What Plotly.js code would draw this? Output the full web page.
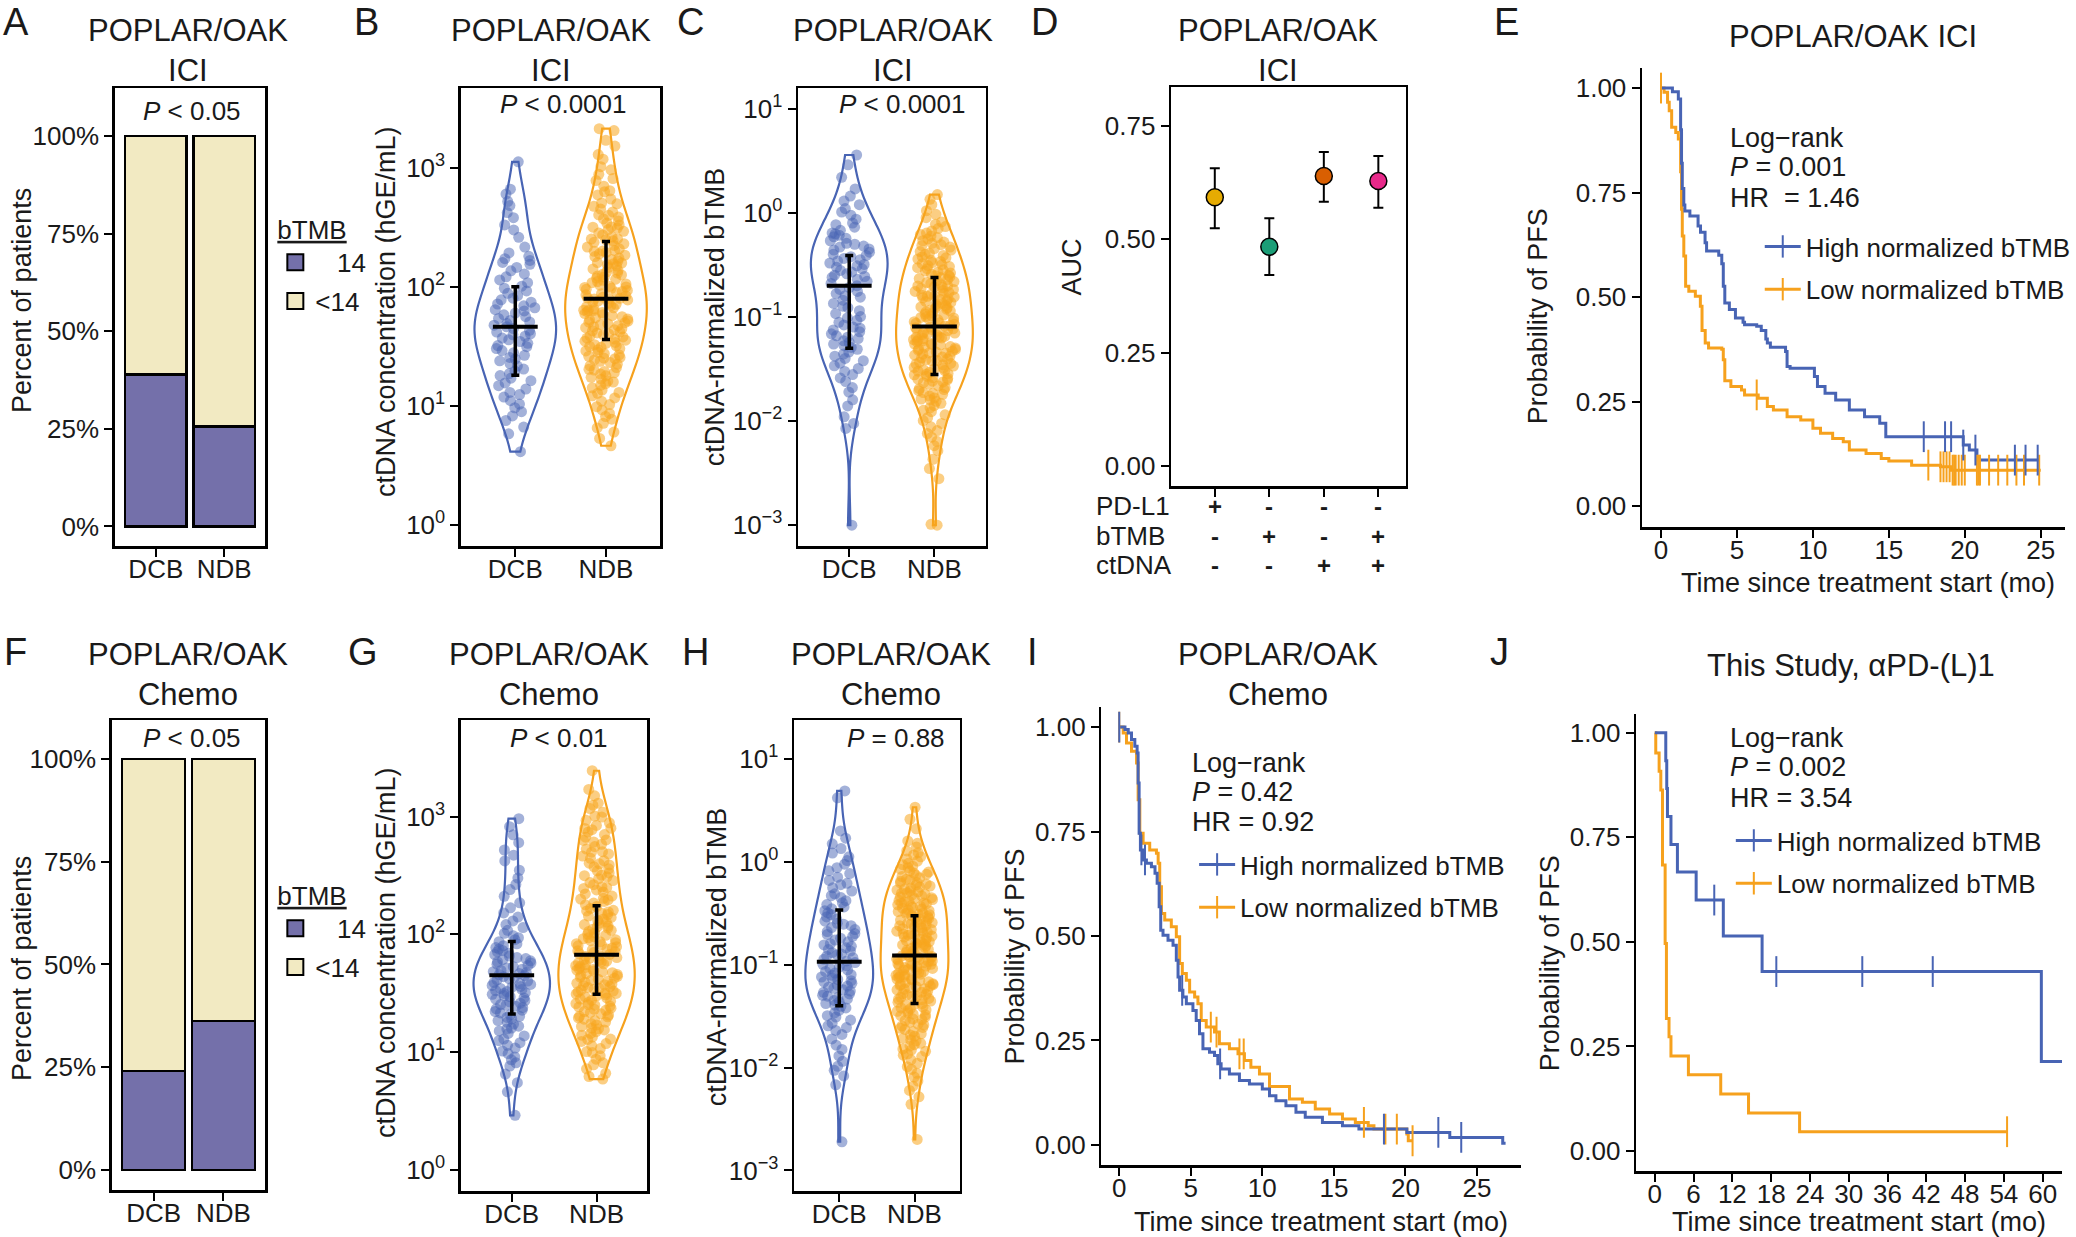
<!DOCTYPE html>
<html><head><meta charset="utf-8">
<script src="https://cdn.plot.ly/plotly-3.0.1.min.js"></script>
<style>html,body{margin:0;padding:0;background:#fff}#chart{width:2076px;height:1237px}</style>
</head><body><div id="chart"></div>
<script>
const W = 2076, H = 1237;
const FONT = 'Liberation Sans, Arial, Helvetica, sans-serif';
const BLUE = '#4864B4', ORANGE = '#F6A11D';
const BLUE_PT = 'rgba(72,100,180,0.5)', ORANGE_PT = 'rgba(248,166,30,0.55)';
const PURPLE = '#7470AA', BEIGE = '#F2EAC2';

// ---------------- DATA ----------------
const groups = ['DCB', 'NDB'];
// A / F : fraction of patients with high bTMB
const iciHighTMB = [0.389, 0.256];
const chemoHighTMB = [0.241, 0.362];

// B : ctDNA concentration (hGE/mL), ICI
const iciCtdnaDCB = [4.1,5.8,6.6,7.5,8.2,8.9,9.6,10.3,11,11.8,12.4,12.9,13.8,14.7,15.5,16.2,17,17.9,18.6,19.5,20.3,21.5,22.6,23.8,24.6,25.4,26.5,27.8,29,30.2,31.3,32,33.4,34.6,35.8,37,38.3,39.4,40.2,41.5,43,44.4,46,47.5,49,50.5,52,54,56,58,60,62.5,64,66.5,69,71.5,74,77.5,80,84,88,92,97,101,108,114,121,128,136,145,154,160,166,172,180,192,215,260,300,330,380,420,480,520,600,660,1120];
const iciCtdnaNDB = [4.6,5.3,6.0,6.5,7.1,7.7,8.1,8.6,9.2,9.8,10.2,10.9,11.6,12.1,12.7,12.9,13.5,14.1,14.8,15.3,15.8,16.1,16.7,17.3,17.8,18.4,18.9,19.4,19.9,20.2,20.9,21.6,22.3,23,23.6,24.2,24.8,25.1,25.4,26,26.7,27.4,28.1,28.8,29.5,30.2,30.9,31.5,31.8,32.5,33.3,34,34.8,35.5,36.3,37,37.8,38.5,39.4,40,40.8,41.7,42.5,43.4,44.3,45.2,46.1,47,47.9,48.9,49.8,50.3,51.4,52.5,53.6,54.7,55.9,57,58.2,59.4,60.6,61.8,62.9,63.3,63.5,65,66.4,67.9,69.4,71,72.6,74.2,75.8,77.4,78.9,79.3,80.5,79.8,81.6,83.5,85.4,87.3,89.2,91.1,93,95,96.9,98.5,99.5,100.5,103,105.5,108,110.5,113,115.5,118,120.5,123,125.5,126.5,130,133.5,137,141,145,149,153,156,158,159.5,164,169,174,179,184,189,194,198,199.5,201,208,215,222,229,236,243,248,251,253,262,272,282,292,302,311,316,318,330,343,357,371,385,398,402,425,449,474,497,505,545,590,628,640,700,780,810,880,960,1020,1180,1290,1520,1700,2050,2130];
const iciCtdnaMed = [46, 79], iciCtdnaQ1 = [18, 36], iciCtdnaQ3 = [100, 240];

// C : ctDNA-normalized bTMB, ICI
const iciNormDCB = [0.001,0.0085,0.0095,0.011,0.014,0.016,0.019,0.021,0.024,0.026,0.028,0.03,0.032,0.034,0.036,0.038,0.04,0.042,0.044,0.046,0.049,0.051,0.053,0.055,0.057,0.059,0.062,0.064,0.066,0.069,0.072,0.075,0.078,0.08,0.084,0.089,0.093,0.098,0.101,0.108,0.115,0.123,0.127,0.135,0.145,0.155,0.16,0.168,0.176,0.184,0.192,0.2,0.21,0.22,0.23,0.24,0.245,0.252,0.26,0.27,0.28,0.29,0.3,0.31,0.32,0.33,0.345,0.355,0.365,0.38,0.39,0.4,0.42,0.44,0.45,0.47,0.48,0.5,0.51,0.54,0.57,0.59,0.61,0.63,0.64,0.68,0.73,0.77,0.8,0.87,0.95,1.02,1.1,1.2,1.3,1.45,1.7,2.2,2.9,3.6];
const iciNormNDB = [0.001,0.00102,0.0028,0.0035,0.0043,0.0052,0.0058,0.0064,0.007,0.0076,0.0081,0.0088,0.0095,0.0101,0.0108,0.0115,0.0123,0.0127,0.0134,0.0141,0.0148,0.0155,0.016,0.0163,0.0167,0.0174,0.0181,0.0185,0.0188,0.0196,0.0201,0.0205,0.021,0.0218,0.0226,0.0234,0.0238,0.0242,0.0249,0.0253,0.0258,0.0262,0.027,0.0278,0.0282,0.0286,0.0294,0.0302,0.0306,0.031,0.0318,0.0322,0.0328,0.0338,0.0348,0.0353,0.0358,0.0368,0.0378,0.0383,0.0388,0.0396,0.0405,0.0412,0.042,0.043,0.044,0.045,0.0452,0.046,0.047,0.048,0.0488,0.0495,0.0505,0.051,0.052,0.054,0.0545,0.055,0.056,0.058,0.059,0.06,0.0605,0.062,0.063,0.0642,0.064,0.065,0.067,0.068,0.0695,0.07,0.071,0.073,0.074,0.0755,0.076,0.077,0.079,0.08,0.082,0.083,0.085,0.087,0.088,0.09,0.092,0.094,0.096,0.098,0.099,0.101,0.103,0.105,0.107,0.109,0.112,0.114,0.117,0.119,0.121,0.123,0.125,0.127,0.129,0.132,0.135,0.138,0.141,0.144,0.147,0.15,0.153,0.156,0.158,0.159,0.162,0.165,0.169,0.172,0.176,0.18,0.184,0.188,0.192,0.196,0.199,0.2,0.204,0.209,0.214,0.219,0.224,0.229,0.234,0.239,0.244,0.249,0.252,0.258,0.264,0.27,0.277,0.284,0.291,0.298,0.305,0.312,0.318,0.325,0.333,0.342,0.35,0.36,0.37,0.38,0.39,0.4,0.41,0.425,0.44,0.455,0.47,0.485,0.495,0.51,0.525,0.54,0.56,0.58,0.6,0.62,0.64,0.67,0.71,0.74,0.78,0.82,0.9,0.97,1.05,1.2,1.35,1.5];
const iciNormMed = [0.2, 0.081], iciNormQ1 = [0.05, 0.028], iciNormQ3 = [0.39, 0.24];

// D : AUC of predictor combinations
const aucVal = [0.592, 0.483, 0.639, 0.628];
const aucLow = [0.524, 0.421, 0.582, 0.569];
const aucHigh = [0.656, 0.546, 0.692, 0.683];
const aucColors = ['#E6AB02', '#1B9E77', '#D95F02', '#E7298A'];
const predictors = ['PD-L1', 'bTMB', 'ctDNA'];
const inclusion = [['+','-','-','-'], ['-','+','-','+'], ['-','-','+','+']];

// E : KM POPLAR/OAK ICI
const eHighT = [0,0.75,1.14,1.29,1.35,1.4,1.5,1.57,1.9,2.44,2.6,2.9,3.0,3.8,4.0,4.1,4.2,4.5,4.9,5.4,5.5,6.3,6.6,6.9,7.0,7.2,8.2,8.3,8.5,10.1,10.3,10.8,11.5,12.4,13.4,14.4,14.8,19.9,20.3,20.8,24.9];
const eHighS = [1,0.991,0.974,0.9,0.82,0.76,0.72,0.706,0.694,0.67,0.655,0.63,0.61,0.6,0.58,0.526,0.486,0.47,0.45,0.44,0.434,0.43,0.42,0.4,0.39,0.38,0.37,0.334,0.33,0.31,0.286,0.27,0.254,0.23,0.214,0.198,0.166,0.146,0.134,0.11,0.11];
const eHighCens = [17.3,18.7,19.1,19.9,20.7,23.3,24.0,24.8];
const eLowT = [0,0.2,0.43,0.54,0.7,0.97,1.14,1.29,1.35,1.4,1.5,1.62,1.83,2.26,2.59,2.7,2.91,3.13,4.0,4.1,4.2,4.6,5.3,5.5,6.4,7.0,7.4,8.3,9.2,10.0,10.5,11.3,12.0,12.4,13.5,14.5,15.0,16.5,18.4,19.1,25.0];
const eLowS = [1,0.99,0.966,0.946,0.906,0.894,0.878,0.8,0.71,0.646,0.598,0.526,0.514,0.502,0.478,0.42,0.39,0.378,0.375,0.35,0.3,0.286,0.278,0.266,0.258,0.238,0.23,0.214,0.206,0.186,0.174,0.162,0.154,0.134,0.126,0.114,0.108,0.098,0.094,0.086,0.086];
const eLowCens = [0,6.3,17.6,18.4,18.6,18.8,19.0,19.2,19.3,19.4,19.6,19.8,20.0,20.8,20.9,21.0,21.6,22.2,22.8,23.4,23.9,24.9];

// G : ctDNA concentration, Chemo
const chemoCtdnaDCB = [2.9,4.6,5.5,6.5,7.6,8.1,8.6,9.1,9.7,10.2,10.8,11.4,12,12.5,12.9,13.7,14.4,15.1,15.7,16,16.6,17.3,17.9,18.5,19.1,19.7,20.1,20.8,21.5,22.1,22.7,23.3,23.9,24.5,25,25.3,26,26.7,27.4,28.1,28.8,29.5,30.2,30.9,31.5,31.9,32.6,33.3,34,34.7,35.4,36.1,36.8,37.5,38.2,39,40.1,41,41.9,42.8,43.7,44.6,45.5,46.4,47.3,48.2,49.3,50.5,51.8,53.1,54.4,55.7,57,58.3,59.6,60.9,62.2,63.5,65.4,67.3,69.2,71.1,73,75,77.2,80,83,86.5,90,93.5,97,102,108,114,121,130,140,152,168,185,210,240,265,300,350,420,470,520,600,700,820,960];
const chemoCtdnaNDB = [5.9,6.2,6.6,7.2,7.8,8.1,8.7,9.3,9.9,10.1,10.7,11.3,11.8,12.3,12.8,12.9,13.4,13.9,14.4,14.9,15.4,15.8,16,16.5,17,17.5,18,18.5,19,19.5,19.9,20.1,20.6,21.1,21.6,22.1,22.6,23.1,23.6,24.1,24.6,25,25.3,25.8,26.4,27,27.6,28.2,28.8,29.4,30,30.6,31.1,31.5,31.8,32.4,33,33.6,34.2,34.8,35.4,36,36.6,37.2,37.8,38.4,39.2,40,40.8,41.6,42.4,43.2,44,44.8,45.6,46.4,47.2,48,48.8,49.7,50.2,51.2,52.2,53.2,54.2,55.2,56.2,57.2,58.2,59.2,60.2,61.2,62.5,63.5,64.8,66.1,67.4,68.7,70,71.3,72.6,73.9,75.2,76.5,78.5,79.8,81.5,83.2,84.9,86.6,88.3,90,91.7,93.4,95.5,98,100.5,103,105.5,108,110.5,113,115.5,118,121,124,127,131,135,139,143,147,151,155,158,160,166,172,178,184,190,196,199,202,211,220,229,238,245,250,253,264,275,286,297,308,315,318,332,346,360,374,388,397,402,422,442,462,482,498,503,530,556,582,608,628,633,668,703,738,773,792,797,840,885,930,990,1010,1090,1170,1250,1300,1500,1700,2450];
const chemoCtdnaMed = [45, 67], chemoCtdnaQ1 = [21, 31], chemoCtdnaQ3 = [87, 175];

// H : ctDNA-normalized bTMB, Chemo
const chemoNormDCB = [0.0019,0.0068,0.0083,0.0094,0.0103,0.0115,0.013,0.015,0.0165,0.019,0.021,0.023,0.0245,0.0255,0.027,0.029,0.031,0.032,0.034,0.036,0.038,0.0395,0.0405,0.042,0.0435,0.045,0.0465,0.048,0.0495,0.0505,0.052,0.054,0.0555,0.057,0.059,0.0605,0.062,0.0635,0.066,0.068,0.07,0.072,0.074,0.076,0.079,0.08,0.083,0.086,0.089,0.092,0.095,0.098,0.101,0.105,0.109,0.113,0.117,0.121,0.125,0.127,0.131,0.136,0.141,0.146,0.151,0.156,0.16,0.167,0.174,0.181,0.189,0.197,0.201,0.21,0.22,0.23,0.24,0.248,0.253,0.265,0.278,0.292,0.308,0.32,0.335,0.35,0.365,0.385,0.4,0.42,0.45,0.47,0.49,0.52,0.56,0.6,0.62,0.66,0.71,0.77,0.82,0.88,0.95,1.03,1.12,1.22,1.35,1.5,1.7,2.0,4.2,4.9];
const chemoNormNDB = [0.002,0.0044,0.0052,0.006,0.0066,0.0074,0.0081,0.0088,0.0096,0.0102,0.011,0.0119,0.0128,0.0132,0.0136,0.0144,0.0148,0.0152,0.0162,0.0167,0.0172,0.0182,0.0187,0.0192,0.0202,0.0208,0.0213,0.0224,0.0235,0.0241,0.0246,0.0254,0.026,0.0265,0.0276,0.0287,0.0293,0.0298,0.0309,0.032,0.0326,0.0331,0.0342,0.0353,0.0358,0.0364,0.0375,0.038,0.0388,0.0405,0.0412,0.0418,0.0431,0.0444,0.0457,0.0463,0.047,0.0483,0.049,0.0496,0.051,0.0518,0.0525,0.054,0.0555,0.057,0.0578,0.0585,0.06,0.0615,0.0622,0.063,0.064,0.0645,0.0655,0.067,0.0685,0.07,0.0715,0.0725,0.073,0.075,0.077,0.078,0.079,0.08,0.081,0.082,0.084,0.086,0.088,0.089,0.09,0.092,0.094,0.096,0.097,0.098,0.0995,0.101,0.102,0.103,0.105,0.107,0.109,0.111,0.112,0.114,0.117,0.119,0.12,0.121,0.123,0.125,0.127,0.129,0.132,0.135,0.138,0.141,0.144,0.147,0.15,0.153,0.156,0.158,0.159,0.162,0.165,0.168,0.171,0.174,0.178,0.182,0.186,0.19,0.194,0.197,0.199,0.2,0.204,0.208,0.212,0.216,0.22,0.224,0.229,0.234,0.239,0.244,0.248,0.251,0.252,0.257,0.262,0.267,0.272,0.277,0.282,0.288,0.294,0.3,0.306,0.312,0.316,0.317,0.323,0.329,0.335,0.341,0.348,0.355,0.362,0.369,0.376,0.383,0.39,0.397,0.399,0.407,0.415,0.423,0.431,0.44,0.449,0.458,0.467,0.476,0.486,0.496,0.502,0.512,0.522,0.533,0.545,0.557,0.57,0.583,0.597,0.61,0.624,0.632,0.65,0.665,0.68,0.7,0.72,0.74,0.76,0.78,0.8,0.82,0.85,0.88,0.91,0.94,0.97,1.02,1.07,1.12,1.17,1.23,1.28,1.4,1.52,1.6,2.1,2.6,3.4];
const chemoNormMed = [0.107, 0.123], chemoNormQ1 = [0.04, 0.042], chemoNormQ3 = [0.34, 0.30];

// I : KM POPLAR/OAK Chemo
const iHighT = [0,0.4,0.63,0.86,1.09,1.25,1.32,1.39,1.48,1.67,1.9,2.25,2.5,2.65,2.79,2.9,3.06,3.41,3.76,3.99,4.11,4.22,4.45,4.69,5.15,5.38,5.61,5.85,6.31,6.66,6.89,7.12,7.7,8.4,9.1,10.0,10.5,10.95,11.65,12.35,13.0,14.2,15.6,16.75,20.1,23.1,26.8,27.0];
const iHighS = [1,0.994,0.986,0.97,0.954,0.938,0.866,0.746,0.706,0.682,0.674,0.666,0.65,0.626,0.57,0.514,0.502,0.49,0.478,0.442,0.402,0.37,0.354,0.338,0.322,0.298,0.266,0.23,0.222,0.214,0.194,0.182,0.17,0.154,0.146,0.134,0.118,0.106,0.094,0.078,0.066,0.054,0.046,0.038,0.03,0.018,0.004,0.004];
const iHighCens = [0,1.55,1.8,4.4,7.05,18.5,22.3,23.9];
const iLowT = [0,0.28,0.51,0.86,1.21,1.32,1.44,1.67,2.13,2.6,2.72,2.83,2.95,3.18,3.64,3.99,4.22,4.41,4.69,4.92,5.27,5.5,5.73,6.08,6.66,7.0,7.7,8.3,8.75,9.2,9.8,10.5,11.9,12.8,13.7,14.7,15.6,16.5,17.4,17.8,20.1,20.2,20.5];
const iLowS = [1,0.986,0.962,0.942,0.914,0.826,0.746,0.722,0.706,0.698,0.674,0.618,0.554,0.538,0.522,0.498,0.434,0.41,0.394,0.366,0.354,0.338,0.298,0.282,0.27,0.242,0.23,0.218,0.202,0.186,0.17,0.14,0.11,0.102,0.086,0.074,0.062,0.054,0.046,0.038,0.026,0.01,0.01];
const iLowCens = [0,6.4,6.8,8.4,8.7,17.1,18.6,19.4,20.5];

// J : KM This Study
const jHighT = [0,1.7,1.85,1.96,2.5,3.5,6.4,10.6,16.6,59.8,63.5];
const jHighS = [1,0.933,0.867,0.8,0.733,0.667,0.6,0.514,0.429,0.214,0.214];
const jHighCens = [9.2,18.8,32.1,43.0,63.5];
const jLowT = [0,0.15,0.67,0.93,1.19,1.6,1.8,2.2,2.5,5.2,10.2,14.5,22.4,54.5];
const jLowS = [1,0.952,0.908,0.863,0.684,0.496,0.317,0.273,0.227,0.182,0.136,0.091,0.046,0.046];
const jLowCens = [54.5];

// ---------------- HELPERS ----------------
const xid = n => n === 1 ? 'x' : 'x' + n;
const yid = n => n === 1 ? 'y' : 'y' + n;
const lg = a => a.map(v => Math.log10(v));
function nrd0(a) {
  const n = a.length, m = a.reduce((s, v) => s + v, 0) / n;
  const sd = Math.sqrt(a.reduce((s, v) => s + (v - m) * (v - m), 0) / (n - 1));
  const s = [...a].sort((p, q) => p - q);
  const q = p => { const h = (n - 1) * p, lo = Math.floor(h); return s[lo] + (h - lo) * (s[Math.min(lo + 1, n - 1)] - s[lo]); };
  return 0.9 * Math.min(sd, (q(0.75) - q(0.25)) / 1.34) * Math.pow(n, -0.2);
}
function violin(vals, cat, color, ptColor, n) {
  const y = lg(vals);
  return {type: 'violin', x0: cat, name: cat, y, xaxis: xid(n), yaxis: yid(n),
    points: 'all', pointpos: 0, jitter: 0.55, spanmode: 'hard', bandwidth: nrd0(y),
    width: 0.9, scalemode: 'width', line: {color, width: 2.2}, fillcolor: 'rgba(0,0,0,0)',
    marker: {color: ptColor, size: 11, line: {width: 0}}, box: {visible: false},
    meanline: {visible: false}, showlegend: false, hoverinfo: 'skip'};
}
function crossbar(med, q1, q3, n) {
  const m = lg(med), lo = lg(q1), hi = lg(q3);
  return {type: 'scatter', mode: 'markers', x: groups, y: m, xaxis: xid(n), yaxis: yid(n),
    marker: {symbol: 'line-ew', size: 32, color: 'black', line: {width: 4, color: 'black'}},
    error_y: {type: 'data', symmetric: false, array: hi.map((v, i) => v - m[i]),
      arrayminus: m.map((v, i) => v - lo[i]), thickness: 3.5, width: 4, color: 'black'},
    showlegend: false, hoverinfo: 'skip'};
}
function kmLine(t, s, color, n) {
  return {type: 'scatter', mode: 'lines', x: t, y: s, xaxis: xid(n), yaxis: yid(n),
    line: {shape: 'hv', color, width: 3}, showlegend: false, hoverinfo: 'skip'};
}
function survAt(t, s, c) { let v = s[0]; for (let i = 0; i < t.length; i++) { if (t[i] <= c) v = s[i]; else break; } return v; }
function kmCens(t, s, ct, color, n) {
  return {type: 'scatter', mode: 'markers', x: ct, y: ct.map(c => survAt(t, s, c)), xaxis: xid(n), yaxis: yid(n),
    marker: {symbol: 'line-ns-open', size: 22, color, line: {width: 2, color}}, showlegend: false, hoverinfo: 'skip'};
}
function kmLegend(name, color, n, leg, grp) {
  return {type: 'scatter', mode: 'lines+markers', x: [null], y: [null], xaxis: xid(n), yaxis: yid(n), name,
    legend: leg, legendgroup: grp, line: {color, width: 3},
    marker: {symbol: 'line-ns-open', size: 16, color, line: {width: 2, color}}, hoverinfo: 'skip'};
}
function barPanel(high, n, leg) {
  const low = high.map(v => 1 - v);
  return [
    {type: 'bar', x: groups, y: high, width: 0.9, xaxis: xid(n), yaxis: yid(n), marker: {color: PURPLE, line: {color: 'black', width: 2.5}}, showlegend: false, hoverinfo: 'skip'},
    {type: 'bar', x: groups, y: low, width: 0.9, xaxis: xid(n), yaxis: yid(n), marker: {color: BEIGE, line: {color: 'black', width: 2.5}}, showlegend: false, hoverinfo: 'skip'},
    {type: 'scatter', mode: 'markers', x: [null], y: [null], xaxis: xid(n), yaxis: yid(n), name: '\u00a0\u00a0\u00a014', legend: leg, legendgroup: 'a',
      marker: {symbol: 'square', size: 22, color: PURPLE, line: {color: 'black', width: 2}}},
    {type: 'scatter', mode: 'markers', x: [null], y: [null], xaxis: xid(n), yaxis: yid(n), name: '&lt;14', legend: leg, legendgroup: 'b',
      marker: {symbol: 'square', size: 22, color: BEIGE, line: {color: 'black', width: 2}}}
  ];
}

// ---------------- TRACES ----------------
const data = [];
data.push(...barPanel(iciHighTMB, 1, 'legend'));
data.push(violin(iciCtdnaDCB, 'DCB', BLUE, BLUE_PT, 2), violin(iciCtdnaNDB, 'NDB', ORANGE, ORANGE_PT, 2), crossbar(iciCtdnaMed, iciCtdnaQ1, iciCtdnaQ3, 2));
data.push(violin(iciNormDCB, 'DCB', BLUE, BLUE_PT, 3), violin(iciNormNDB, 'NDB', ORANGE, ORANGE_PT, 3), crossbar(iciNormMed, iciNormQ1, iciNormQ3, 3));
data.push({type: 'scatter', mode: 'markers', x: aucVal.map((v, i) => i + 1), y: aucVal, xaxis: 'x4', yaxis: 'y4',
  marker: {size: 17, color: aucColors, line: {color: 'black', width: 1.5}},
  error_y: {type: 'data', symmetric: false, array: aucHigh.map((v, i) => v - aucVal[i]), arrayminus: aucVal.map((v, i) => v - aucLow[i]), thickness: 2, width: 5, color: 'black'},
  showlegend: false, hoverinfo: 'skip'});
data.push(kmLine(eLowT, eLowS, ORANGE, 5), kmLine(eHighT, eHighS, BLUE, 5),
  kmCens(eLowT, eLowS, eLowCens, ORANGE, 5), kmCens(eHighT, eHighS, eHighCens, BLUE, 5),
  kmLegend('High normalized bTMB', BLUE, 5, 'legend3', 'h'), kmLegend('Low normalized bTMB', ORANGE, 5, 'legend3', 'l'));
data.push(...barPanel(chemoHighTMB, 6, 'legend2'));
data.push(violin(chemoCtdnaDCB, 'DCB', BLUE, BLUE_PT, 7), violin(chemoCtdnaNDB, 'NDB', ORANGE, ORANGE_PT, 7), crossbar(chemoCtdnaMed, chemoCtdnaQ1, chemoCtdnaQ3, 7));
data.push(violin(chemoNormDCB, 'DCB', BLUE, BLUE_PT, 8), violin(chemoNormNDB, 'NDB', ORANGE, ORANGE_PT, 8), crossbar(chemoNormMed, chemoNormQ1, chemoNormQ3, 8));
data.push(kmLine(iLowT, iLowS, ORANGE, 9), kmLine(iHighT, iHighS, BLUE, 9),
  kmCens(iLowT, iLowS, iLowCens, ORANGE, 9), kmCens(iHighT, iHighS, iHighCens, BLUE, 9),
  kmLegend('High normalized bTMB', BLUE, 9, 'legend4', 'h'), kmLegend('Low normalized bTMB', ORANGE, 9, 'legend4', 'l'));
data.push(kmLine(jLowT, jLowS, ORANGE, 10), kmLine(jHighT, jHighS, BLUE, 10),
  kmCens(jLowT, jLowS, jLowCens, ORANGE, 10), kmCens(jHighT, jHighS, jHighCens, BLUE, 10),
  kmLegend('High normalized bTMB', BLUE, 10, 'legend5', 'h'), kmLegend('Low normalized bTMB', ORANGE, 10, 'legend5', 'l'));

// ---------------- LAYOUT ----------------
const TXT = '#1a1a1a';
const layout = {width: W, height: H, margin: {l: 0, r: 0, t: 0, b: 0}, paper_bgcolor: 'white', plot_bgcolor: 'rgba(0,0,0,0)',
  font: {family: FONT, size: 26, color: TXT}, barmode: 'stack', violinmode: 'overlay', showlegend: true, annotations: []};

function setAxes(n, px, py, xr, yr, xo, yo, boxed) {
  const base = {showline: true, mirror: boxed, linecolor: 'black', linewidth: 2.5, ticks: 'outside', ticklen: 8, tickwidth: 2,
    tickcolor: 'black', showgrid: false, zeroline: false, tickfont: {size: 26, color: TXT}, fixedrange: true};
  layout['xaxis' + (n === 1 ? '' : n)] = Object.assign({}, base, {domain: [px[0] / W, px[1] / W], range: xr, anchor: yid(n), ticklabelstandoff: -10}, xo);
  layout['yaxis' + (n === 1 ? '' : n)] = Object.assign({}, base, {domain: [1 - py[1] / H, 1 - py[0] / H], range: yr, anchor: xid(n)}, yo);
}
const catX = {type: 'category', categoryorder: 'array', categoryarray: groups};
const pctY = {tickvals: [0, 0.25, 0.5, 0.75, 1], ticktext: ['0%', '25%', '50%', '75%', '100%']};
const logTicks = (lo, hi) => { const v = []; for (let k = lo; k <= hi; k++) v.push(k); return {tickvals: v, ticktext: v.map(k => '10<sup>' + (k < 0 ? '\u2212' + (-k) : k) + '</sup>')}; };
const probY = {tickvals: [0, 0.25, 0.5, 0.75, 1], tickformat: '.2f'};

setAxes(1, [115, 266], [88, 546], [-0.6, 1.6], [-0.05, 1.123], catX, pctY, true);
setAxes(2, [462, 662], [88, 546], [-0.6, 1.6], [-0.18, 3.67], catX, logTicks(0, 3), true);
setAxes(3, [800, 988], [88, 546], [-0.6, 1.6], [-3.2, 1.2], catX, logTicks(-3, 1), true);
setAxes(4, [1174, 1409], [87, 486], [0.2, 4.5], [-0.044, 0.835], {tickvals: [1, 2, 3, 4], showticklabels: false}, {tickvals: [0, 0.25, 0.5, 0.75], tickformat: '.2f'}, true);
setAxes(5, [1646, 2070], [68, 527], [-1.25, 26.6], [-0.05, 1.048], {tickvals: [0, 5, 10, 15, 20, 25]}, probY, false);
setAxes(6, [112, 266], [720, 1190], [-0.6, 1.6], [-0.049, 1.095], catX, pctY, true);
setAxes(7, [462, 649], [720, 1191], [-0.6, 1.6], [-0.18, 3.82], catX, logTicks(0, 3), true);
setAxes(8, [796, 962], [720, 1191], [-0.6, 1.6], [-3.2, 1.38], catX, logTicks(-3, 1), true);
setAxes(9, [1104, 1525], [707, 1165], [-1.25, 28.1], [-0.048, 1.048], {tickvals: [0, 5, 10, 15, 20, 25]}, probY, false);
setAxes(10, [1640, 2067], [714, 1171], [-2.9, 63], [-0.048, 1.045], {tickvals: [0, 6, 12, 18, 24, 30, 36, 42, 48, 54, 60]}, probY, false);

// legends
const legBase = {bgcolor: 'rgba(0,0,0,0)', borderwidth: 0, font: {size: 26, color: TXT}, xanchor: 'left', yanchor: 'top', traceorder: 'grouped', tracegroupgap: 2, itemsizing: 'trace'};
layout.legend = Object.assign({}, legBase, {x: 276 / W, y: 1 - 205 / H, title: {text: '<u>bTMB</u>', font: {size: 26, color: TXT}}});
layout.legend2 = Object.assign({}, legBase, {x: 276 / W, y: 1 - 871 / H, title: {text: '<u>bTMB</u>', font: {size: 26, color: TXT}}});
const kmLeg = {tracegroupgap: 6, itemwidth: 36};
layout.legend3 = Object.assign({}, legBase, kmLeg, {x: 1764 / W, y: 1 - 223 / H});
layout.legend4 = Object.assign({}, legBase, kmLeg, {x: 1197 / W, y: 1 - 841 / H});
layout.legend5 = Object.assign({}, legBase, kmLeg, {x: 1735 / W, y: 1 - 817 / H});

// annotations
function ann(text, px, py, o) {
  layout.annotations.push(Object.assign({text, x: px / W, y: 1 - py / H, xref: 'paper', yref: 'paper', showarrow: false,
    xanchor: 'center', yanchor: 'middle', font: {size: 27, color: TXT}}, o || {}));
}
const letter = {font: {size: 38, color: TXT}};
[['A', 16, 22], ['B', 367, 22], ['C', 692, 22], ['D', 1047, 22], ['E', 1510, 22],
 ['F', 16, 652], ['G', 364, 652], ['H', 697, 652], ['I', 1035, 652], ['J', 1503, 652]].forEach(l => ann(l[0], l[1], l[2], letter));
const ttl = {font: {size: 31, color: TXT}};
ann('POPLAR/OAK<br>ICI', 188, 50, ttl);
ann('POPLAR/OAK<br>ICI', 552, 50, ttl);
ann('POPLAR/OAK<br>ICI', 895, 50, ttl);
ann('POPLAR/OAK<br>ICI', 1281, 50, ttl);
ann('POPLAR/OAK ICI', 1857, 37, ttl);
ann('POPLAR/OAK<br>Chemo', 188, 674, ttl);
ann('POPLAR/OAK<br>Chemo', 550, 674, ttl);
ann('POPLAR/OAK<br>Chemo', 893, 674, ttl);
ann('POPLAR/OAK<br>Chemo', 1281, 674, ttl);
ann('This Study, \u03b1PD-(L)1', 1855, 665, ttl);
// p-values
const pv = {font: {size: 26, color: TXT}};
ann('<i>P</i> &lt; 0.05', 192, 111, pv);
ann('<i>P</i> &lt; 0.0001', 565, 104, pv);
ann('<i>P</i> &lt; 0.0001', 905, 104, pv);
ann('<i>P</i> &lt; 0.05', 192, 738, pv);
ann('<i>P</i> &lt; 0.01', 560, 738, pv);
ann('<i>P</i> = 0.88', 898, 738, pv);
// axis titles
const rot = {textangle: -90};
ann('Percent of patients', 22, 300, rot);
ann('ctDNA concentration (hGE/mL)', 387, 312, rot);
ann('ctDNA-normalized bTMB', 717, 317, rot);
ann('AUC', 1075, 267, rot);
ann('Probability of PFS', 1542, 316, rot);
ann('Percent of patients', 22, 968, rot);
ann('ctDNA concentration (hGE/mL)', 387, 953, rot);
ann('ctDNA-normalized bTMB', 719, 957, rot);
ann('Probability of PFS', 1017, 957, rot);
ann('Probability of PFS', 1554, 963, rot);
ann('Time since treatment start (mo)', 1873, 583);
ann('Time since treatment start (mo)', 1324, 1222);
ann('Time since treatment start (mo)', 1863, 1222);
// log-rank text
const left = {xanchor: 'left'};
ann('Log\u2212rank', 1732, 138, left); ann('<i>P</i> = 0.001', 1732, 167, left); ann('HR  = 1.46', 1732, 198, left);
ann('Log\u2212rank', 1193, 763, left); ann('<i>P</i> = 0.42', 1193, 792, left); ann('HR = 0.92', 1193, 822, left);
ann('Log\u2212rank', 1732, 738, left); ann('<i>P</i> = 0.002', 1732, 767, left); ann('HR = 3.54', 1732, 798, left);
// D predictor table
const rowY = [506, 536, 565];
predictors.forEach((p, r) => {
  ann(p, 1097, rowY[r], {xanchor: 'left', font: {size: 26, color: TXT}});
  inclusion[r].forEach((sgn, c) => {
    layout.annotations.push({text: '<b>' + sgn + '</b>', x: c + 1, xref: 'x4', y: 1 - rowY[r] / H, yref: 'paper', showarrow: false,
      xanchor: 'center', yanchor: 'middle', font: {size: 24, color: TXT}});
  });
});

Plotly.newPlot('chart', data, layout, {staticPlot: true});
</script>
</body></html>
